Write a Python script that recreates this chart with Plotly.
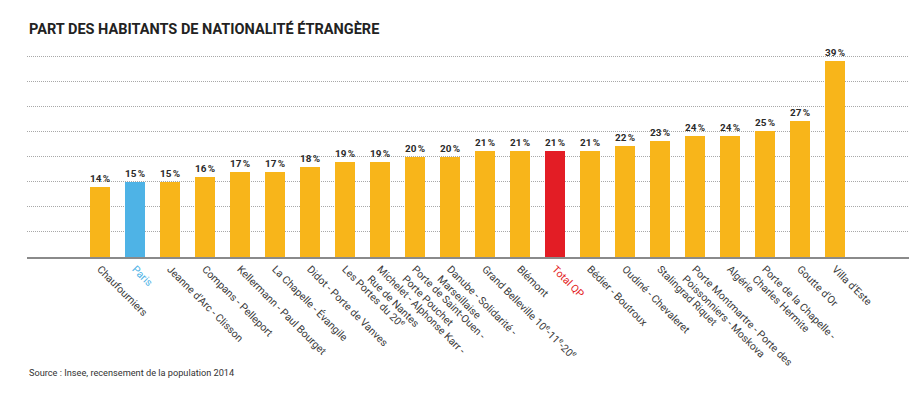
import plotly.graph_objects as go

categories = [
    "Chaufourniers", "Paris", "Jeanne d'Arc - Clisson", "Compans - Pelleport",
    "Kellermann - Paul Bourget", "La Chapelle - Évangile", "Didot - Porte de Vanves",
    "Les Portes du 20<sup>e</sup>", "Michelet - Alphonse Karr -<br>Rue de Nantes",
    "Porte de Saint-Ouen -<br>Porte Pouchet", "Danube - Solidarité -<br>Marseillaise",
    "Grand Belleville 10<sup>e</sup>-11<sup>e</sup>-20<sup>e</sup>", "Blémont", "Total QP",
    "Bédier - Boutroux", "Oudiné - Chevaleret", "Stalingrad Riquet",
    "Porte Montmartre - Porte des<br>Poissonniers - Moskova", "Algérie",
    "Porte de la Chapelle -<br>Charles Hermite", "Goutte d'Or", "Villa d'Este",
]
values = [14, 15, 15, 16, 17, 17, 18, 19, 19, 20, 20, 21, 21, 21, 21, 22, 23, 24, 24, 25, 27, 39]
highlight = {"Paris": "#4EB3E6", "Total QP": "#E31D25"}

title_text = "PART DES HABITANTS DE NATIONALITÉ ÉTRANGÈRE"
source_text = "Source : Insee, recensement de la population 2014"

YELLOW = "#F8B51A"
LABEL = "#3a3a3a"
FONT = "Roboto, sans-serif"

bar_colors = [highlight.get(c, YELLOW) for c in categories]
tick_text = []
for c in categories:
    if c in highlight:
        tick_text.append(f'<span style="color:{highlight[c]}">{c}</span>')
    else:
        tick_text.append(c)

x_idx = list(range(len(categories)))

# page body has an 8px margin: figure drawn 8px right/down of the window origin
PLOT_H = 206
BASE = 249  # baseline y in figure pixels

fig = go.Figure(go.Bar(
    x=x_idx, y=values,
    marker=dict(color=bar_colors, line=dict(width=0)),
    width=0.57,
    text=[f"{v}\u202f%" for v in values],
    textposition="outside",
    textfont=dict(family=FONT, size=10, color="#2a2a2a", weight="bold"),
    cliponaxis=False,
    hoverinfo="skip",
))

fig.update_layout(
    width=912, height=388,
    margin=dict(l=19, r=11, t=43, b=139, autoexpand=False),
    plot_bgcolor="white", paper_bgcolor="white",
    showlegend=False,
    bargap=0,
    xaxis=dict(
        range=[-2.09, 23.11],
        tickmode="array", tickvals=x_idx, ticktext=tick_text,
        tickangle=45, automargin=False,
        tickfont=dict(family=FONT, size=10.5, color=LABEL),
        showgrid=False, showline=True, linecolor="#8a8a8a", linewidth=2,
        ticks="", ticklen=0, zeroline=False,
    ),
    yaxis=dict(
        range=[0, 41], tickmode="array", tickvals=[5, 10, 15, 20, 25, 30, 35, 40],
        showticklabels=False, showgrid=True, gridcolor="#a8a8a8", gridwidth=1,
        griddash="1px,1px", zeroline=False, showline=False, ticks="", automargin=False,
    ),
    annotations=[
        dict(text=f"<b>{title_text}</b>", x=0, y=(BASE - 21) / PLOT_H, xref="paper", yref="paper",
             xanchor="left", yanchor="middle", showarrow=False,
             font=dict(family=FONT, size=14.5, color="#222")),
        dict(text=source_text, x=0, y=(BASE - 364) / PLOT_H, xref="paper", yref="paper",
             xanchor="left", yanchor="middle", showarrow=False,
             font=dict(family=FONT, size=9.2, color="#333")),
    ],
)

fig.write_html("out.html")
